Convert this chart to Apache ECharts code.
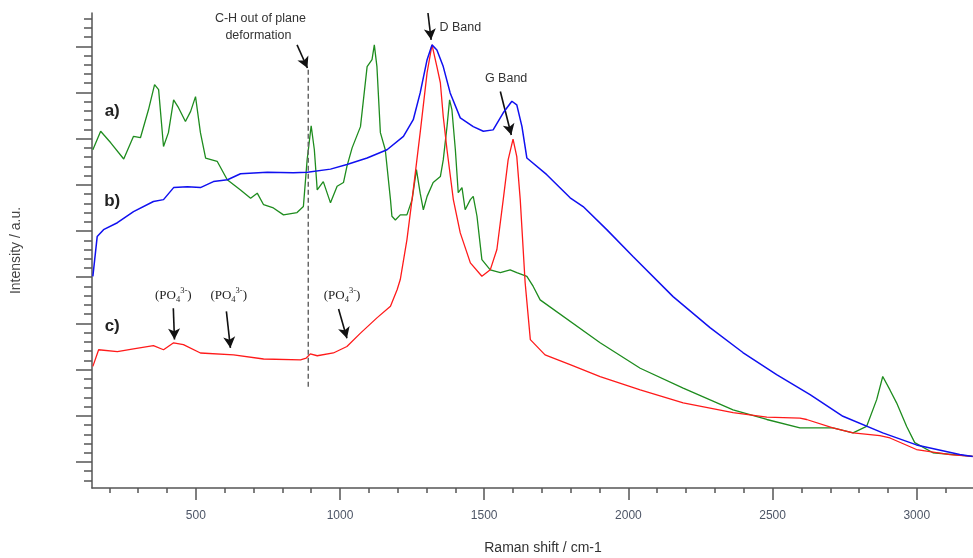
<!DOCTYPE html>
<html><head><meta charset="utf-8">
<script src="https://cdn.jsdelivr.net/npm/echarts@6/dist/echarts.min.js"></script>
<style>html,body{margin:0;padding:0;background:#fff}#c{width:973px;height:558px}</style>
</head><body><div id="c"></div>
<script>
// ---- Data (Raman shift in cm-1, intensity in arbitrary units) ----
const blueX = [143,158,180,228,284,353,388,423,471,516,561,610,655,748,838,887,967,1024,1094,1163,1220,1254,1278,1302,1319,1336,1358,1382,1417,1462,1497,1531,1566,1596,1613,1631,1648,1717,1798,1843,1925,2016,2155,2283,2397,2514,2630,2744,2882,2999,3149,3194];
const blueY = [4.02,4.88,5.03,5.18,5.42,5.64,5.68,5.94,5.96,5.94,6.07,6.11,6.24,6.27,6.26,6.27,6.34,6.44,6.58,6.76,7.05,7.41,7.99,8.71,9.03,8.92,8.56,7.99,7.45,7.26,7.16,7.19,7.56,7.81,7.73,7.26,6.58,6.22,5.72,5.53,5.03,4.45,3.58,2.91,2.37,1.89,1.46,0.99,0.63,0.37,0.16,0.12];

const greenX = [143,170,205,250,284,308,336,357,371,388,405,423,440,464,482,499,516,534,574,609,655,690,713,735,769,804,851,873,886,900,911,921,942,967,990,1012,1024,1042,1071,1094,1111,1119,1128,1140,1157,1175,1180,1192,1209,1232,1250,1265,1278,1289,1302,1323,1348,1358,1371,1380,1388,1400,1410,1423,1434,1452,1462,1475,1492,1521,1556,1590,1613,1648,1670,1694,1902,2041,2190,2363,2480,2595,2709,2779,2826,2861,2882,2907,2930,2965,2993,3056,3194];
const greenY = [6.76,7.16,6.91,6.56,7.05,7.02,7.63,8.17,8.06,6.83,7.13,7.84,7.67,7.37,7.59,7.91,7.13,6.58,6.51,6.11,5.89,5.71,5.82,5.57,5.50,5.35,5.40,5.53,6.54,7.28,6.76,5.89,6.07,5.61,5.97,6.05,6.40,6.80,7.26,8.56,8.71,9.03,8.56,7.13,6.76,5.68,5.32,5.24,5.35,5.35,5.68,6.33,5.82,5.46,5.75,6.05,6.18,6.54,7.26,7.84,7.63,6.76,5.83,5.94,5.46,5.68,5.75,5.32,4.38,4.16,4.10,4.16,4.10,4.02,3.80,3.51,2.58,2.03,1.60,1.13,0.92,0.74,0.74,0.63,0.77,1.35,1.85,1.56,1.28,0.77,0.42,0.20,0.12];

const redX = [143,163,228,284,353,388,423,457,516,631,735,863,883,897,921,977,1024,1071,1128,1175,1198,1209,1232,1254,1278,1302,1319,1336,1348,1358,1371,1393,1417,1452,1492,1521,1544,1566,1583,1600,1613,1625,1642,1660,1711,1798,1902,2041,2190,2363,2480,2595,2618,2709,2779,2872,2907,2999,3115,3194];
const redY = [2.07,2.43,2.39,2.45,2.52,2.43,2.58,2.54,2.36,2.32,2.23,2.21,2.25,2.34,2.30,2.36,2.50,2.79,3.12,3.37,3.73,3.95,4.81,5.89,7.13,8.43,9.03,8.56,8.21,7.48,6.76,5.68,4.96,4.31,4.02,4.16,4.60,5.68,6.54,6.99,6.61,5.68,3.88,2.65,2.32,2.11,1.85,1.56,1.28,1.07,0.97,0.95,0.92,0.74,0.63,0.57,0.52,0.27,0.16,0.12];

const xMajorTicks = [500,1000,1500,2000,2500,3000];
const xMinorTicks = [200,300,400,600,700,800,900,1100,1200,1300,1400,1600,1700,1800,1900,2100,2200,2300,2400,2600,2700,2800,2900,3100];
const yMajorTicks = [0,1,2,3,4,5,6,7,8,9];
const yMinorTicks = [-0.4,-0.2,0.2,0.4,0.6,0.8,1.2,1.4,1.6,1.8,2.2,2.4,2.6,2.8,3.2,3.4,3.6,3.8,4.2,4.4,4.6,4.8,5.2,5.4,5.6,5.8,6.2,6.4,6.6,6.8,7.2,7.4,7.6,7.8,8.2,8.4,8.6,8.8,9.2,9.4,9.6];

// vertical reference line for C-H out of plane deformation
const chLineX = [890, 890];
const chLineY = [1.63, 8.49];

const pairs = (xs, ys) => xs.map((x, i) => [x, ys[i]]);

const chart = echarts.init(document.getElementById('c'), null, {renderer: 'canvas'});
const axisColor = '#555';
const lbl = '#4d5566';

const arrows = [
  [[851, 9.03], [887, 8.53]],
  [[1305, 9.72], [1316, 9.14]],
  [[1556, 8.02], [1594, 7.08]],
  [[422, 3.33], [426, 2.65]],
  [[606, 3.26], [620, 2.47]],
  [[995, 3.31], [1024, 2.68]]
];

chart.setOption({
  animation: false,
  backgroundColor: '#fff',
  grid: {left: 92, right: 0, top: 13, bottom: 70, containLabel: false, outerBoundsMode: 'none'},
  xAxis: [
    {
      type: 'value', min: 140, max: 3195, position: 'bottom',
      name: 'Raman shift / cm-1', nameLocation: 'middle', nameGap: 53,
      nameTextStyle: {fontFamily: 'Liberation Sans', fontSize: 14, color: '#333', padding: [0, 0, 0, 21]},
      axisLine: {show: true, onZero: false, lineStyle: {color: axisColor, width: 1.5}},
      axisTick: {show: true, customValues: xMajorTicks, length: 12, inside: false, lineStyle: {color: axisColor, width: 1.5}},
      axisLabel: {show: true, customValues: xMajorTicks, margin: 22, fontFamily: 'Liberation Sans', fontSize: 12, color: lbl, formatter: v => String(v)},
      splitLine: {show: false}
    },
    {
      type: 'value', min: 140, max: 3195, position: 'bottom',
      axisLine: {show: false, onZero: false},
      axisTick: {show: true, customValues: xMinorTicks, length: 5, lineStyle: {color: axisColor, width: 1.5}},
      axisLabel: {show: false},
      splitLine: {show: false}
    }
  ],
  yAxis: [
    {
      type: 'value', min: -0.563, max: 9.72, position: 'left',
      name: 'Intensity / a.u.', nameLocation: 'middle', nameGap: 69,
      nameTextStyle: {fontFamily: 'Liberation Sans', fontSize: 14, color: '#444'},
      axisLine: {show: true, onZero: false, lineStyle: {color: axisColor, width: 1.5}},
      axisTick: {show: true, customValues: yMajorTicks, length: 16, lineStyle: {color: axisColor, width: 1.5}},
      axisLabel: {show: false},
      splitLine: {show: false}
    },
    {
      type: 'value', min: -0.563, max: 9.72, position: 'left',
      axisLine: {show: false, onZero: false},
      axisTick: {show: true, customValues: yMinorTicks, length: 8, lineStyle: {color: axisColor, width: 1.5}},
      axisLabel: {show: false},
      splitLine: {show: false}
    }
  ],
  series: [
    {
      type: 'line', name: 'green', data: pairs(greenX, greenY), showSymbol: false, symbol: 'none',
      lineStyle: {color: '#1e8c1e', width: 1.3}, z: 3
    },
    {
      type: 'line', name: 'red', data: pairs(redX, redY), showSymbol: false, symbol: 'none',
      lineStyle: {color: '#ff1a1a', width: 1.3}, z: 4
    },
    {
      type: 'line', name: 'blue', data: pairs(blueX, blueY), showSymbol: false, symbol: 'none',
      lineStyle: {color: '#1010f0', width: 1.5}, z: 5
    },
    {
      type: 'line', name: 'ch', data: pairs(chLineX, chLineY), showSymbol: false, symbol: 'none',
      lineStyle: {color: '#666', width: 1.5, type: [5, 3]}, z: 6,
      markLine: {
        silent: true, symbol: ['none', 'arrow'], symbolSize: [9, 11],
        label: {show: false},
        lineStyle: {color: '#111', width: 1.6, type: 'solid'},
        data: arrows.map(a => [{coord: a[0]}, {coord: a[1]}])
      }
    }
  ]
});

const ann = [
  {t: 'C-H out of plane', x: 724, y: 9.59, align: 'center', size: 12.5},
  {t: 'deformation', x: 717, y: 9.23, align: 'center', size: 12.5},
  {t: 'D Band', x: 1345, y: 9.40, align: 'left', size: 12.5},
  {t: 'G Band', x: 1576, y: 8.30, align: 'center', size: 12.5},
  {t: 'a)', x: 210, y: 7.59, align: 'center', size: 17, bold: true},
  {t: 'b)', x: 210, y: 5.64, align: 'center', size: 17, bold: true},
  {t: 'c)', x: 210, y: 2.94, align: 'center', size: 17, bold: true}
];
const po4 = [[422, 3.60], [614, 3.60], [1007, 3.60]];

const g = [];
ann.forEach(a => {
  const p = chart.convertToPixel({xAxisIndex: 0, yAxisIndex: 0}, [a.x, a.y]);
  g.push({type: 'text', x: p[0], y: p[1], z: 100, style: {
    text: a.t, align: a.align, verticalAlign: 'middle',
    font: (a.bold ? 'bold ' : '') + a.size + 'px "Liberation Sans"', fill: a.bold ? '#222' : '#333'
  }});
});
po4.forEach(q => {
  const p = chart.convertToPixel({xAxisIndex: 0, yAxisIndex: 0}, q);
  g.push({type: 'text', x: p[0], y: p[1], z: 100, style: {
    text: '{n|(PO}{s|4}{p|3-}{n|)}', align: 'center', verticalAlign: 'middle',
    rich: {
      n: {fontFamily: 'Liberation Serif', fontSize: 13, lineHeight: 18, fill: '#222', color: '#222'},
      s: {fontFamily: 'Liberation Serif', fontSize: 8.5, verticalAlign: 'bottom', lineHeight: 12, fill: '#222', color: '#222'},
      p: {fontFamily: 'Liberation Serif', fontSize: 8.5, verticalAlign: 'top', lineHeight: 12, fill: '#222', color: '#222'}
    }
  }});
});
chart.setOption({graphic: g});
</script>
</body></html>
